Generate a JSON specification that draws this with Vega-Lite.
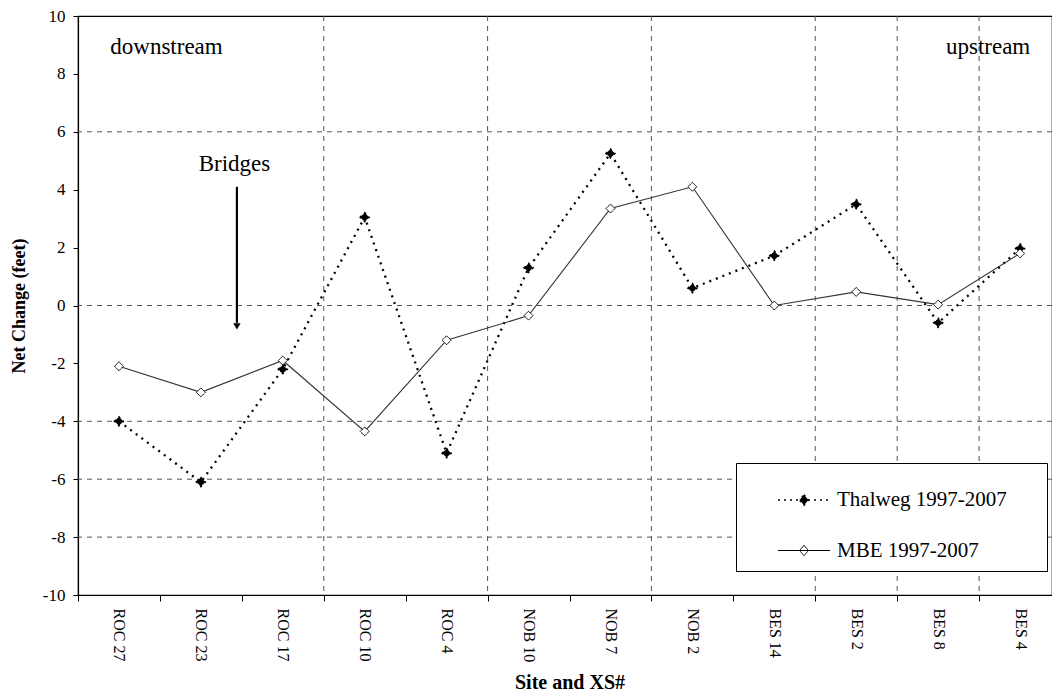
{
  "$schema": "https://vega.github.io/schema/vega-lite/v6.json",
  "width": 974,
  "height": 579,
  "autosize": "none",
  "padding": {"left": 78, "top": 16, "right": 0, "bottom": 99},
  "background": "white",
  "config": {
    "view": {"stroke": "#000", "strokeWidth": 1.2},
    "font": "Liberation Serif"
  },
  "datasets": {
    "series": [
      {"site": "ROC 27", "series": "Thalweg 1997-2007", "value": -4.0},
      {"site": "ROC 23", "series": "Thalweg 1997-2007", "value": -6.1},
      {"site": "ROC 17", "series": "Thalweg 1997-2007", "value": -2.2},
      {"site": "ROC 10", "series": "Thalweg 1997-2007", "value": 3.05},
      {"site": "ROC 4", "series": "Thalweg 1997-2007", "value": -5.1},
      {"site": "NOB 10", "series": "Thalweg 1997-2007", "value": 1.3},
      {"site": "NOB 7", "series": "Thalweg 1997-2007", "value": 5.25},
      {"site": "NOB 2", "series": "Thalweg 1997-2007", "value": 0.6},
      {"site": "BES 14", "series": "Thalweg 1997-2007", "value": 1.72},
      {"site": "BES 2", "series": "Thalweg 1997-2007", "value": 3.5},
      {"site": "BES 8", "series": "Thalweg 1997-2007", "value": -0.6},
      {"site": "BES 4", "series": "Thalweg 1997-2007", "value": 1.97},
      {"site": "ROC 27", "series": "MBE 1997-2007", "value": -2.1},
      {"site": "ROC 23", "series": "MBE 1997-2007", "value": -3.0},
      {"site": "ROC 17", "series": "MBE 1997-2007", "value": -1.9},
      {"site": "ROC 10", "series": "MBE 1997-2007", "value": -4.35},
      {"site": "ROC 4", "series": "MBE 1997-2007", "value": -1.2},
      {"site": "NOB 10", "series": "MBE 1997-2007", "value": -0.35},
      {"site": "NOB 7", "series": "MBE 1997-2007", "value": 3.35},
      {"site": "NOB 2", "series": "MBE 1997-2007", "value": 4.1},
      {"site": "BES 14", "series": "MBE 1997-2007", "value": 0.0},
      {"site": "BES 2", "series": "MBE 1997-2007", "value": 0.47},
      {"site": "BES 8", "series": "MBE 1997-2007", "value": 0.03},
      {"site": "BES 4", "series": "MBE 1997-2007", "value": 1.8}
    ],
    "vgrid": [
      {"site": "ROC 10"}, {"site": "NOB 10"}, {"site": "NOB 2"},
      {"site": "BES 2"}, {"site": "BES 8"}, {"site": "BES 4"}
    ],
    "hgrid": [
      {"value": 6}, {"value": 0}, {"value": -4}, {"value": -6}, {"value": -8}
    ],
    "downstream": [{"site": "ROC 23", "value": 8.93, "label": "downstream"}],
    "upstream": [{"site": "BES 4", "value": 8.93, "label": "upstream"}],
    "bridges": [{"site": "ROC 23", "value": 4.9, "label": "Bridges"}],
    "arrow": [{"site": "ROC 23", "value": 4.1, "end": -0.6, "tip": -0.72}]
  },
  "encoding": {
    "x": {
      "field": "site", "type": "nominal",
      "scale": {"type": "band", "domain": ["ROC 27", "ROC 23", "ROC 17", "ROC 10", "ROC 4", "NOB 10", "NOB 7", "NOB 2", "BES 14", "BES 2", "BES 8", "BES 4"], "range": [0, 983], "paddingInner": 0, "paddingOuter": 0},
      "axis": {
        "title": "Site and XS#",
        "titleFont": "Liberation Serif",
        "titleFontSize": 20,
        "titleFontWeight": "bold",
        "titleColor": "#000",
        "titlePadding": 11,
        "labelAngle": 90,
        "labelFont": "Liberation Serif",
        "labelFontSize": 16,
        "labelColor": "#000",
        "labelPadding": 7,
        "tickBand": "extent",
        "tickSize": 6,
        "tickColor": "#000",
        "domainColor": "#000",
        "domainWidth": 1.2,
        "grid": false
      }
    },
    "y": {
      "field": "value", "type": "quantitative",
      "scale": {"domain": [-10, 10]},
      "axis": {
        "title": "Net Change (feet)",
        "titleFont": "Liberation Serif",
        "titleFontSize": 18,
        "titleFontWeight": "bold",
        "titleColor": "#000",
        "titlePadding": 14,
        "values": [-10, -8, -6, -4, -2, 0, 2, 4, 6, 8, 10],
        "labelExpr": "'' + datum.value",
        "labelFont": "Liberation Serif",
        "labelFontSize": 17,
        "labelColor": "#000",
        "labelPadding": 8,
        "tickSize": 5,
        "tickColor": "#000",
        "domainColor": "#000",
        "domainWidth": 1.2,
        "grid": false
      }
    }
  },
  "layer": [
    {
      "data": {"name": "hgrid"},
      "mark": {"type": "rule", "color": "#555", "strokeDash": [5, 5], "strokeWidth": 1},
      "encoding": {"x": null}
    },
    {
      "data": {"name": "vgrid"},
      "mark": {"type": "rule", "color": "#555", "strokeDash": [5, 5], "strokeWidth": 1},
      "encoding": {
        "x": {"field": "site", "type": "nominal", "bandPosition": 0},
        "y": null
      }
    },
    {
      "data": {"name": "series"},
      "transform": [{"filter": "datum.series === 'Thalweg 1997-2007'"}],
      "mark": {"type": "line", "color": "#000", "strokeDash": [2, 5], "strokeWidth": 2.3},
      "encoding": {}
    },
    {
      "data": {"name": "series"},
      "transform": [{"filter": "datum.series === 'MBE 1997-2007'"}],
      "mark": {"type": "line", "color": "#333", "strokeWidth": 1.1},
      "encoding": {}
    },
    {
      "data": {"name": "series"},
      "mark": {"type": "point", "shape": "diamond", "filled": true, "stroke": "#000", "opacity": 1, "size": 80},
      "encoding": {
        "fill": {
          "field": "series", "type": "nominal",
          "scale": {"domain": ["Thalweg 1997-2007", "MBE 1997-2007"], "range": ["#000", "#fff"]},
          "legend": {
            "title": null,
            "orient": "none",
            "legendX": 658,
            "legendY": 447,
            "padding": 10,
            "strokeColor": "#000",
            "fillColor": "#fff",
            "symbolType": "M-1,0H1M0,-0.2L0.17,0L0,0.2L-0.17,0Z",
            "symbolSize": 2704,
            "symbolOffset": 31,
            "symbolStrokeColor": "#000",
            "rowPadding": 14,
            "labelOffset": 6,
            "labelFont": "Liberation Serif",
            "labelFontSize": 21,
            "labelColor": "#000",
            "labelLimit": 500,
            "labelExpr": "datum.label + '\u2800\u2800'"
          }
        },
        "strokeDash": {
          "field": "series", "type": "nominal",
          "scale": {"domain": ["Thalweg 1997-2007", "MBE 1997-2007"], "range": [[2, 4], [1, 0]]}
        },
        "strokeWidth": {
          "field": "series", "type": "nominal",
          "scale": {"domain": ["Thalweg 1997-2007", "MBE 1997-2007"], "range": [1.6, 1]}
        }
      }
    },
    {
      "data": {"name": "downstream"},
      "mark": {"type": "text", "font": "Liberation Serif", "fontSize": 23, "color": "#000", "align": "center", "baseline": "middle"},
      "encoding": {
        "x": {"field": "site", "type": "nominal", "bandPosition": 0.08},
        "text": {"field": "label", "type": "nominal"}
      }
    },
    {
      "data": {"name": "upstream"},
      "mark": {"type": "text", "font": "Liberation Serif", "fontSize": 23, "color": "#000", "align": "center", "baseline": "middle"},
      "encoding": {
        "x": {"field": "site", "type": "nominal", "bandPosition": 0.11},
        "text": {"field": "label", "type": "nominal"}
      }
    },
    {
      "data": {"name": "bridges"},
      "mark": {"type": "text", "font": "Liberation Serif", "fontSize": 23, "color": "#000", "align": "center", "baseline": "middle"},
      "encoding": {
        "x": {"field": "site", "type": "nominal", "bandPosition": 0.91},
        "text": {"field": "label", "type": "nominal"}
      }
    },
    {
      "data": {"name": "arrow"},
      "mark": {"type": "rule", "color": "#000", "strokeWidth": 2.2},
      "encoding": {
        "x": {"field": "site", "type": "nominal", "bandPosition": 0.94},
        "y2": {"field": "end"}
      }
    },
    {
      "data": {"name": "arrow"},
      "mark": {"type": "point", "shape": "triangle-down", "filled": true, "color": "#000", "size": 55, "opacity": 1},
      "encoding": {
        "x": {"field": "site", "type": "nominal", "bandPosition": 0.94},
        "y": {"field": "tip", "type": "quantitative"}
      }
    }
  ]
}
